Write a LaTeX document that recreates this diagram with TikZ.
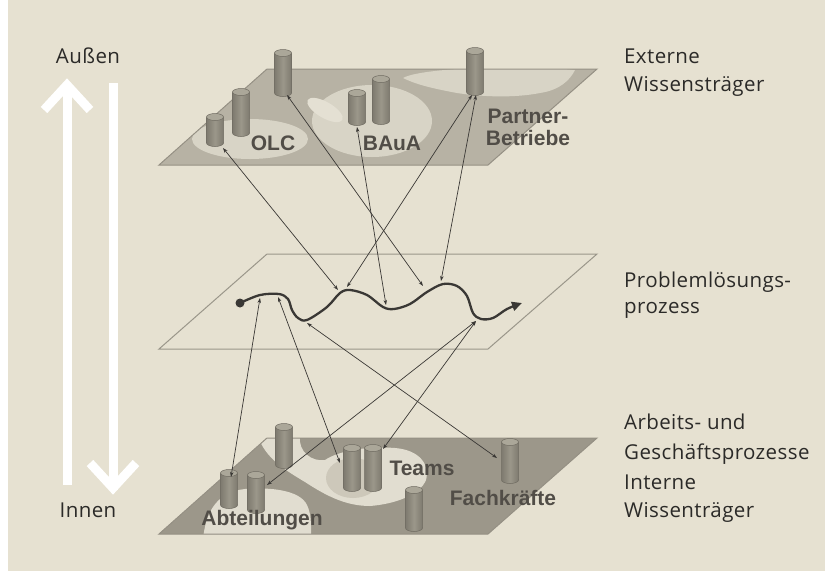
\documentclass[tikz,border=0pt]{standalone}
\usepackage{fontspec}
\setmainfont{Open Sans}[LetterSpace=2]
\newfontfamily\labfont{Liberation Sans}
\usetikzlibrary{arrows.meta}
\definecolor{bg}{HTML}{E6E1D1}
\definecolor{topplane}{HTML}{B7B2A4}
\definecolor{topblob}{HTML}{D8D4C6}
\definecolor{topstreak}{HTML}{E4E0D3}
\definecolor{botplane}{HTML}{9C978A}
\definecolor{botblob}{HTML}{E1DDD0}
\definecolor{botinner}{HTML}{CDC8BA}
\definecolor{planeedge}{HTML}{959084}
\definecolor{midedge}{HTML}{9A968A}
\definecolor{cyldark}{HTML}{7E7A6F}
\definecolor{cylmid}{HTML}{9B978A}
\definecolor{cyltopc}{HTML}{ABA799}
\definecolor{cylline}{HTML}{6F6B61}
\definecolor{linec}{HTML}{3A3835}
\definecolor{labc}{HTML}{514D47}
\definecolor{txtc}{HTML}{2B2A28}
\newcommand\mycyl[4]{%
  \shade[left color=cyldark, right color=cyldark, middle color=cylmid]
    (#2-8.5,#3) -- (#2-8.5,#4) arc[start angle=180,end angle=0,x radius=8.5,y radius=3.5] -- (#2+8.5,#3) -- cycle;
  \draw[cylline, line width=0.5pt] (#2-8.5,#3) -- (#2-8.5,#4) arc[start angle=180,end angle=0,x radius=8.5,y radius=3.5] -- (#2+8.5,#3);
  \draw[cylline, line width=0.5pt, fill=cyltopc] (#2,#3) ellipse[x radius=8.5,y radius=3.5];
  \coordinate (#1) at (#2,#4);}
\begin{document}
\begin{tikzpicture}[x=1pt,y=-1pt,
  conn/.style={draw=linec, line width=0.7pt, {Stealth[length=5pt,width=3.5pt]}-{Stealth[length=5pt,width=3.5pt]}},
  planelab/.style={font=\labfont\bfseries\fontsize{21}{22}\selectfont, text=labc, inner sep=0pt},
  sidetxt/.style={font=\fontsize{20.5}{23}\selectfont, text=txtc, inner sep=0pt, anchor=base west},
  whitearrow/.style={draw=white, line width=9pt}]
\useasboundingbox (0,0) rectangle (825,571);
\fill[bg] (0,0) rectangle (825,571);
\fill[white] (0,0) rectangle (8,571);

% ---------- top plane ----------
\fill[topplane] (267,69) -- (597,69) -- (488,165) -- (159,165) -- cycle;
\begin{scope}
  \clip (267,69) -- (597,69) -- (488,165) -- (159,165) -- cycle;
  \fill[topblob] (250,139) ellipse[x radius=58, y radius=20];
  \fill[topblob] (372,121) ellipse[x radius=60, y radius=36];
  \fill[topstreak, rotate around={-30:(325,110)}] (325,110) ellipse[x radius=20, y radius=8];
  \fill[topblob] (403,78) .. controls (420,68) and (520,64) .. (575,70)
     .. controls (570,80) and (560,90) .. (540,93)
     .. controls (520,97) and (490,98) .. (457,93)
     .. controls (430,88) and (415,84) .. cycle;
\end{scope}
\draw[planeedge, line width=1pt] (267,69) -- (597,69) -- (488,165) -- (159,165) -- cycle;

\mycyl{o1}{283}{53}{93}
\mycyl{o2}{241}{92}{133}
\mycyl{o3}{215}{117}{143}
\mycyl{b1}{357}{93}{122}
\mycyl{b2}{381}{79}{121}
\mycyl{p1}{475}{51}{92}
\node[planelab] (olc) at (273,143) {OLC};
\node[planelab] (baua) at (392,143) {BAuA};
\node[planelab, align=center] (partner) at (528,127) {Partner-\\Betriebe};

% ---------- middle plane ----------
\draw[midedge, line width=1pt] (267,254) -- (597,254) -- (488,349) -- (159,349) -- cycle;

% ---------- bottom plane ----------
\fill[botplane] (267,438) -- (597,438) -- (488,534) -- (159,534) -- cycle;
\begin{scope}
  \clip (267,438) -- (597,438) -- (488,534) -- (159,534) -- cycle;
  \fill[botblob] (203,540) .. controls (205,515) and (215,492) .. (245,489)
     .. controls (270,487) and (300,490) .. (307,505)
     .. controls (312,515) and (311,530) .. (311,540) -- cycle;
  \fill[botblob] (258,436) -- (300,436) .. controls (298,452) and (312,462) .. (325,460)
     .. controls (340,450) and (370,446) .. (395,448)
     .. controls (420,450) and (430,465) .. (426,480)
     .. controls (420,495) and (395,504) .. (370,506)
     .. controls (345,506) and (325,495) .. (305,482)
     .. controls (285,470) and (265,458) .. cycle;
  \fill[botinner] (353,478) ellipse[x radius=27, y radius=20];
\end{scope}
\draw[planeedge, line width=1pt] (267,438) -- (597,438) -- (488,534) -- (159,534) -- cycle;

\mycyl{ka}{284}{427}{465}
\mycyl{kb}{229}{473}{505}
\mycyl{kc}{256}{475}{510}
\mycyl{kd}{352}{448}{488}
\mycyl{ke}{373}{448}{488}
\mycyl{kf}{414}{490}{528}
\mycyl{kg}{510}{442}{480}
\node[planelab] (teams) at (422,468) {Teams};
\node[planelab] (fach) at (503,498) {Fachkräfte};
\node[planelab] (abt) at (262,520) {Abteilungen};

% ---------- process curve ----------
\draw[linec, line width=2.3pt, -{Triangle[length=10pt,width=9pt]}]
  plot[smooth, tension=0.55] coordinates {(240,303) (260,295) (279,294) (288,299) (292,310) (298,318) (307,320) (327,307) (340,293) (350,290) (367,295) (383,307) (394,309) (410,304) (427,292) (443,284) (457,286) (467,296) (473,313) (481,319) (493,318) (507,309) (522,303)};
\fill[linec] (240,303) circle[radius=4.5];
\node[circle, inner sep=0pt, minimum size=0pt] (start) at (240,303) {};

% curve contact points
\coordinate (c1) at (338,290);
\coordinate (c2) at (347,287);
\coordinate (c3) at (386,305);
\coordinate (c4) at (423,286);
\coordinate (c5) at (441,281);
\coordinate (d1) at (260,298);
\coordinate (d2) at (278,297);
\coordinate (d3) at (307,323);
\coordinate (d4) at (476,321);
\coordinate (e1) at (231,477);
\coordinate (e2) at (340,463);
\coordinate (e3) at (267,485);
\coordinate (e4) at (383,449);
\coordinate (e5) at (497,458);
\coordinate (t1) at (223,148);
\coordinate (t2) at (287,95);
\coordinate (t3) at (357,127);
\coordinate (t4) at (472,95);
\coordinate (t5) at (476,95);

% ---------- connectors ----------
\draw[conn] (t1) -- (c1);
\draw[conn] (t2) -- (c4);
\draw[conn] (t3) -- (c3);
\draw[conn] (t4) -- (c2);
\draw[conn] (t5) -- (c5);
\draw[conn] (d1) -- (e1);
\draw[conn] (d2) -- (e2);
\draw[conn] (d3) -- (e5);
\draw[conn] (d4) -- (e3);
\draw[conn] (d4) -- (e4);

% ---------- white arrows ----------
\draw[whitearrow] (67,485) -- (67,88);
\draw[whitearrow, miter limit=10] (44,110) -- (67,85) -- (90,110);
\draw[whitearrow] (113,83) -- (113,490);
\draw[whitearrow, miter limit=10] (90,463) -- (113,488) -- (136,463);

% ---------- side texts ----------
\node[sidetxt, anchor=base] (aussen) at (88,63) {Außen};
\node[sidetxt, anchor=base] (innen) at (88,517) {Innen};
\node[sidetxt] (ext1) at (624,63) {Externe};
\node[sidetxt] (ext2) at (624,91) {Wissensträger};
\node[sidetxt] (pl1) at (624,287) {Problemlösungs-};
\node[sidetxt] (pl2) at (624,313) {prozess};
\node[sidetxt] (ag1) at (624,429) {Arbeits- und};
\node[sidetxt] (ag2) at (624,459) {Geschäftsprozesse};
\node[sidetxt] (in1) at (624,489) {Interne};
\node[sidetxt] (in2) at (624,517) {Wissenträger};
\end{tikzpicture}
\end{document}
